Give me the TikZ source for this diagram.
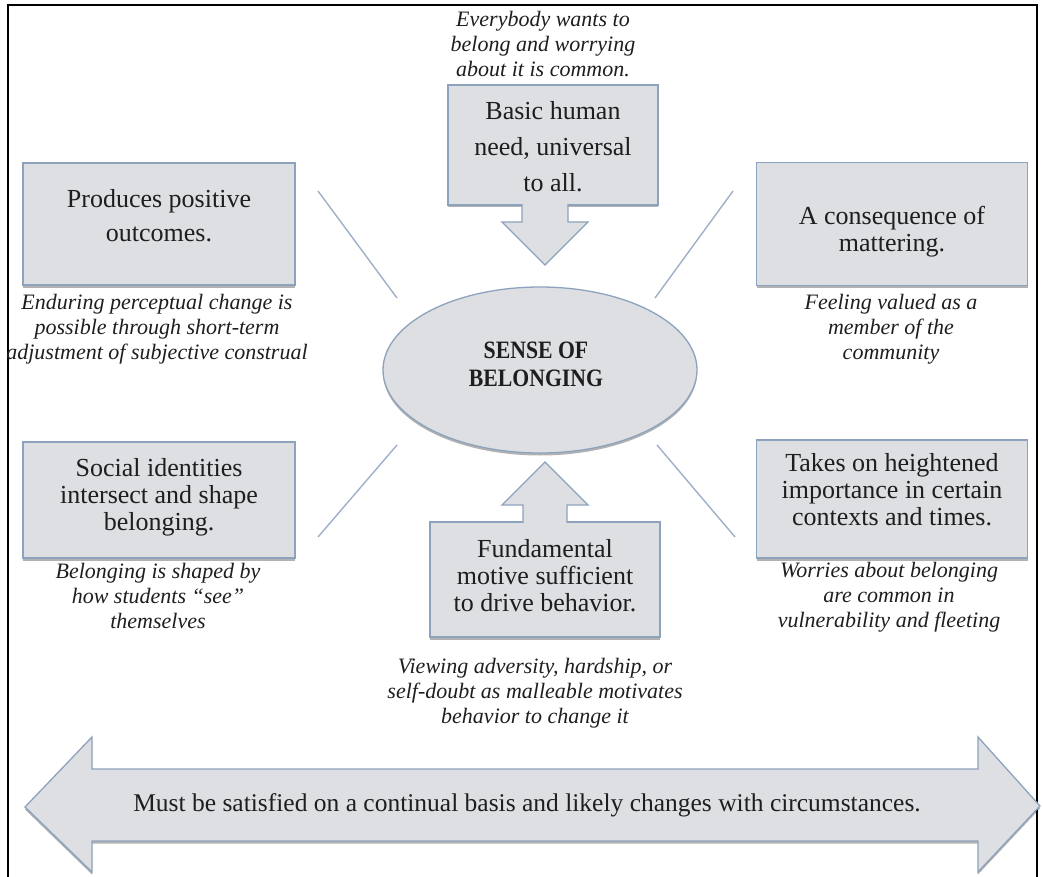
\documentclass[tikz,border=0pt]{standalone}
\usepackage{fontspec}
\setmainfont{Liberation Serif}
\newfontfamily\sobfont[FakeStretch=0.87]{Liberation Serif}
\usetikzlibrary{shapes.geometric,shadows}
\definecolor{boxfill}{HTML}{DDDFE3}
\definecolor{boxline}{HTML}{8DA2BC}
\definecolor{linkline}{HTML}{9DB0C8}
\definecolor{inktext}{HTML}{1E1E1E}
\begin{document}
\begin{tikzpicture}[
    x = 1pt, y = -1pt,
    box/.style = {draw=boxline, fill=boxfill, line width=1.3pt, inner sep=0pt,
      drop shadow={shadow xshift=0pt, shadow yshift=-2.5pt, opacity=0.3, fill=black}},
    boxtext/.style = {align=center, text=inktext, font=\fontsize{26}{27}\selectfont},
    note/.style = {align=center, text=inktext, font=\fontsize{22}{25}\selectfont\itshape},
    link/.style = {draw=linkline, line width=1.4pt},
    pointer/.style = {draw=boxline, fill=boxfill, line width=1.3pt, line join=miter}]
  \useasboundingbox (0,0) rectangle (1043,877);
  \draw [line width=2.5pt] (8,880) -- (8,5) -- (1037,5) -- (1037,880);

  % centre
  \node [ellipse, draw=boxline, fill=boxfill, line width=1.3pt,
    minimum width=314pt, minimum height=166pt,
    drop shadow={shadow xshift=0pt, shadow yshift=-2.5pt, opacity=0.3, fill=black}] (sob) at (540,370) {};
  \node [align=center, text=inktext, font=\sobfont\bfseries\fontsize{25}{28}\selectfont] (sobtext) at (536,364) {SENSE OF\\BELONGING};

  % boxes
  \node [box, minimum width=210pt, minimum height=120pt] (basic) at (553,145) {};
  \node [boxtext, font=\fontsize{26}{36}\selectfont] (basictext) at (553,147) {Basic human\\need, universal\\to all.};
  \path [pointer] (522,204.2) -- (522,222) -- (502,222) -- (545,265) -- (588,222) -- (568,222) -- (568,204.2);

  \node [box, minimum width=272pt, minimum height=122pt] (pp) at (159,224) {};
  \node [boxtext, font=\fontsize{26}{34}\selectfont] (pptext) at (159,216) {Produces positive\\outcomes.};

  \node [box, minimum width=271pt, minimum height=123pt] (mat) at (892,224) {};
  \node [boxtext] (mattext) at (892,232) {A consequence of\\mattering.};

  \node [box, minimum width=272pt, minimum height=116pt] (si) at (159,500) {};
  \node [boxtext] (sitext) at (159,497) {Social identities\\intersect and shape\\belonging.};

  \node [box, minimum width=271pt, minimum height=118pt] (tk) at (892,499) {};
  \node [boxtext] (tktext) at (892,490) {Takes on heightened\\importance in certain\\contexts and times.};

  \node [box, minimum width=230pt, minimum height=115pt] (fm) at (545,579.5) {};
  \node [boxtext] (fmtext) at (545,576) {Fundamental\\motive sufficient\\to drive behavior.};
  \path [pointer] (523,522.8) -- (523,505) -- (502,505) -- (545,462) -- (588,505) -- (567,505) -- (567,522.8);

  % spokes
  \coordinate (ula) at (318,191); \coordinate (ulb) at (397,298);
  \coordinate (ura) at (733,191); \coordinate (urb) at (655,298);
  \coordinate (lla) at (397,445); \coordinate (llb) at (318,537);
  \coordinate (lra) at (657,445); \coordinate (lrb) at (735,537);
  \draw [link] (ula) -- (ulb);
  \draw [link] (ura) -- (urb);
  \draw [link] (lla) -- (llb);
  \draw [link] (lra) -- (lrb);

  % notes
  \node [note] (everybody) at (543,44) {Everybody wants to\\belong and worrying\\about it is common.};
  \node [note] (enduring) at (157,329) {Enduring perceptual change is\\possible through short-term\\adjustment of subjective construal};
  \node [note] (valued) at (891,329) {Feeling valued as a\\member of the\\community};
  \node [note] (shaped) at (158,596) {Belonging is shaped by\\how students “see”\\themselves};
  \node [note] (worries) at (889,597) {Worries about belonging\\are common in\\vulnerability and fleeting};
  \node [note] (viewing) at (535,693) {Viewing adversity, hardship, or\\self-doubt as malleable motivates\\behavior to change it};

  % bottom arrow
  \path [pointer, drop shadow={shadow xshift=0pt, shadow yshift=-2.5pt, opacity=0.3, fill=black}]
    (25,807) -- (92,737) -- (92,769) -- (978,769) -- (978,737) -- (1040,806)
    -- (978,872) -- (978,841) -- (92,841) -- (92,872) -- cycle;
  \node [boxtext, font=\fontsize{25.5}{27}\selectfont] (must) at (527,805) {Must be satisfied on a continual basis and likely changes with circumstances.};
\end{tikzpicture}
\end{document}
